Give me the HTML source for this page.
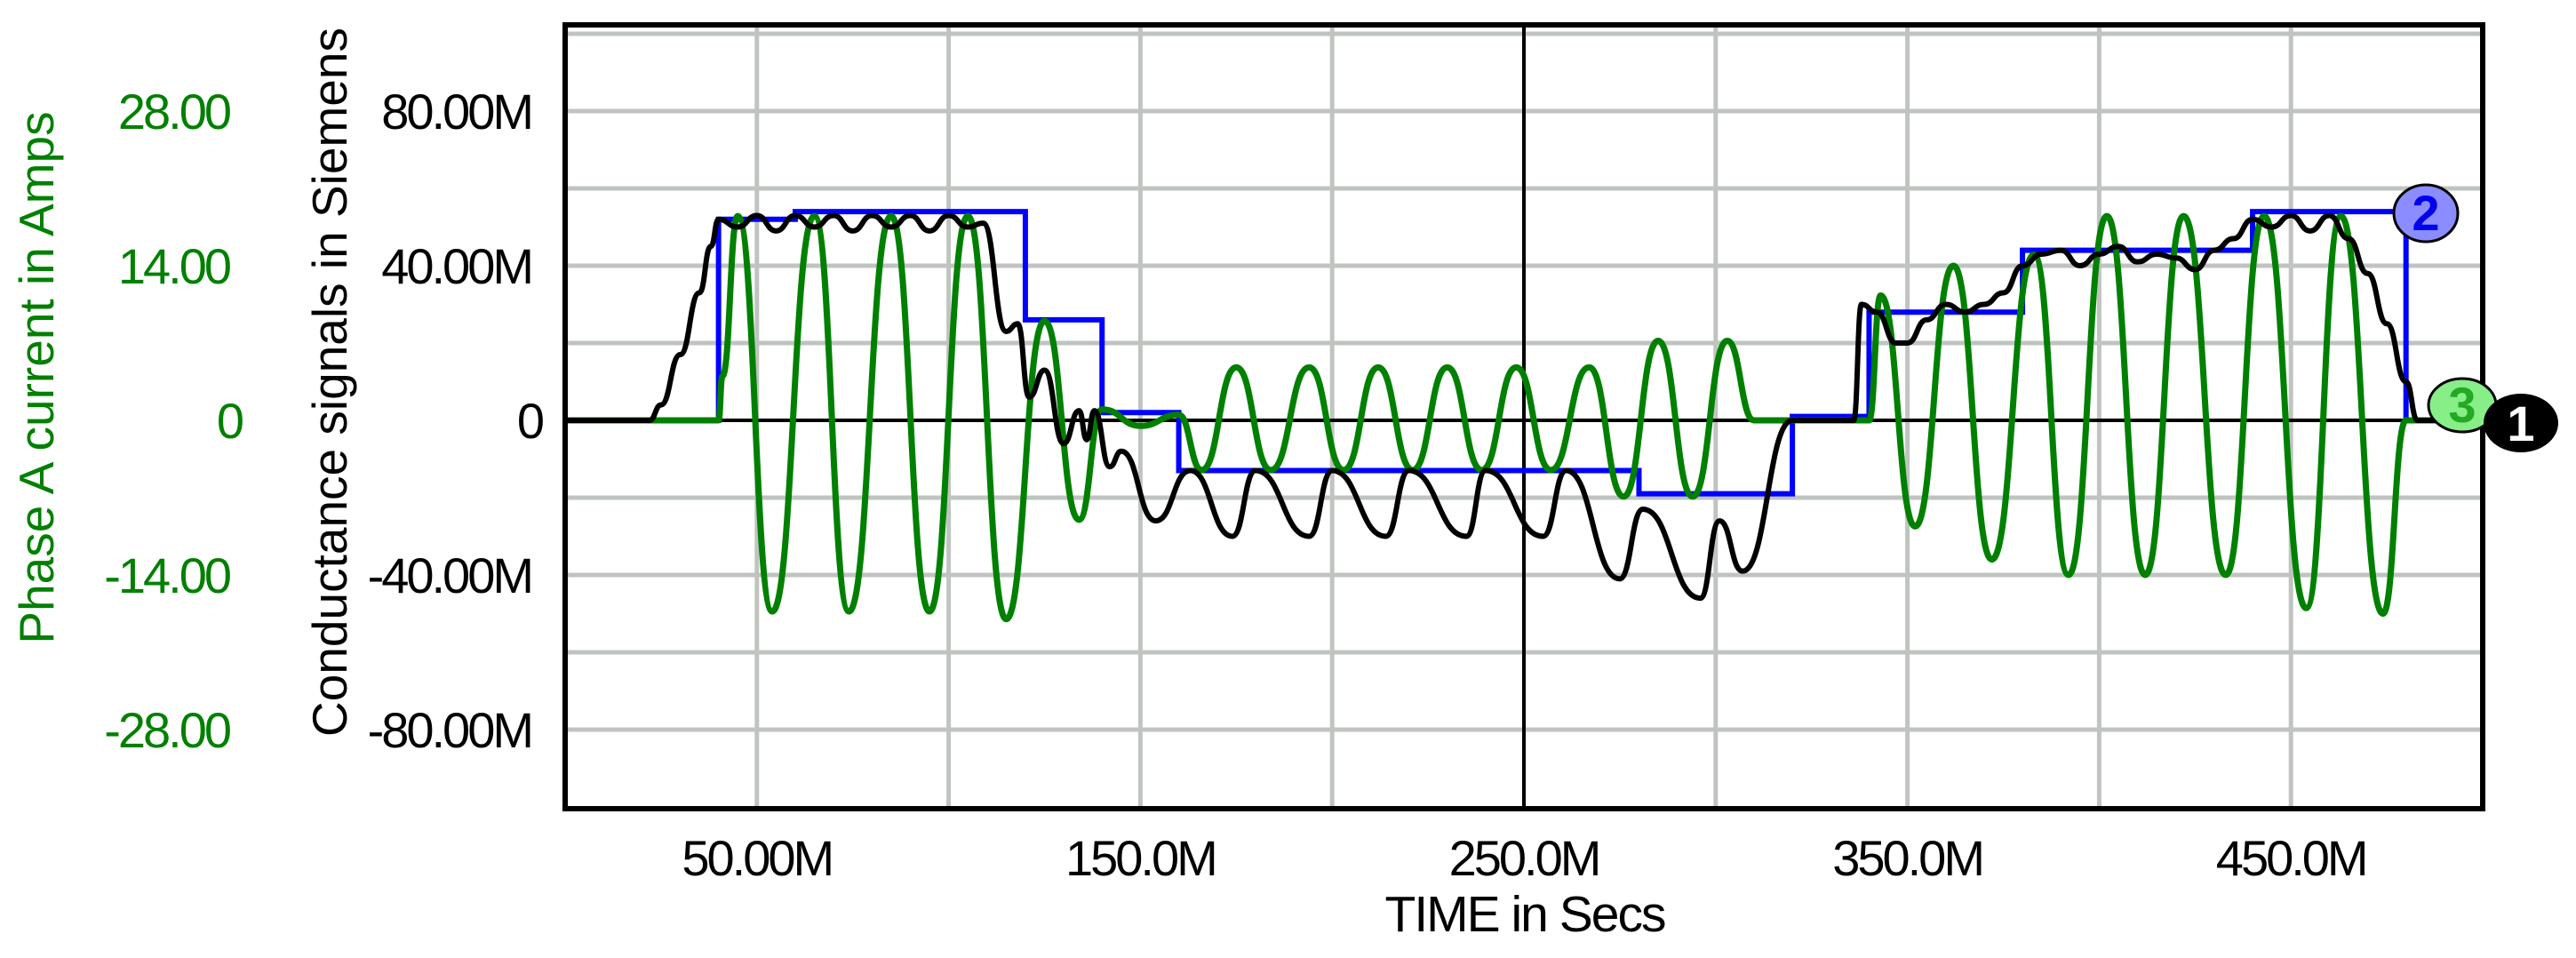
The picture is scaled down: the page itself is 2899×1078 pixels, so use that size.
<!DOCTYPE html>
<html><head><meta charset="utf-8"><style>
html,body{margin:0;padding:0;background:#fff}
svg{display:block}
text{font-family:"Liberation Sans",Arial,sans-serif}
</style></head><body>
<svg id="chart" width="2899" height="1078" viewBox="0 0 2899 1078" xmlns="http://www.w3.org/2000/svg">
<g id="grid"></g>
<g id="series"></g>
<rect x="636" y="28" width="2158" height="882" fill="none" stroke="#000" stroke-width="6"/>
<g id="labels"></g>
<text x="1716" y="1048" font-size="57" text-anchor="middle" letter-spacing="-2">TIME in Secs</text>
<text transform="translate(390,430) rotate(-90)" font-size="55" text-anchor="middle">Conductance signals in Siemens</text>
<text transform="translate(60,425) rotate(-90)" font-size="55" text-anchor="middle" fill="#008000">Phase A current in Amps</text>
<g><ellipse cx="2730" cy="240" rx="36" ry="32" fill="#8a8cff" stroke="#000" stroke-width="3"/><text x="2730" y="259" font-size="56" font-weight="bold" fill="#0000ee" text-anchor="middle">2</text></g>
<g><ellipse cx="2771" cy="456" rx="38" ry="30" fill="#88ee88" stroke="#000" stroke-width="3"/><text x="2771" y="475" font-size="56" font-weight="bold" fill="#22aa22" text-anchor="middle">3</text></g>
<g><ellipse cx="2837" cy="476" rx="42" ry="33" fill="#000"/><text x="2837" y="496" font-size="56" font-weight="bold" fill="#fff" text-anchor="middle">1</text></g>
</svg>
<script>
const xTicks=[50,150,250,350,450];
const xTickLabels=["50.00M","150.0M","250.0M","350.0M","450.0M"];
const yTicks=[80,40,0,-40,-80];
const yTickLabels=["80.00M","40.00M","0","-40.00M","-80.00M"];
const y2Ticks=[28,14,0,-14,-28];
const y2TickLabels=["28.00","14.00","0","-14.00","-28.00"];
const blueT=[0,40,60,120,140,160,280,320,340,380,440,480,500];
const blueV=[0,52,54,26,2,-13,-19,1,28,44,54,0,0];
const blackT=[0,22,25,30,35,38,40,45,50,55,60,65,70,75,80,85,90,95,100,105,109,115,118,121,125,130,134,136,138,142,145,154,163,174,180,194,200,214,220,235,240,255,261,275,281,296,301,307,320,336,338,342,347,350,355,360,365,370,375,380,385,390,395,400,405,410,415,420,425,430,435,440,445,450,455,460,465,470,475,480,483,500];
const blackV=[0,0,4,17,33,45,52,50,53,49,53,50,53,49,53,50,53,49,53,50,51,23,25,6,13,-6,2.5,-5,2.5,-12,-8,-26,-13,-30,-13,-30,-13,-30,-13,-30,-13,-30,-13,-41,-23,-46,-26,-39,0,0,30,28,20,20,26,30,28,30,33,40,43,44,40,43,45,41,43,42,39,44,47,52,50,53,49,53,47,38,25,10,0,0];
const greenT=[0,40,41,45,54,65,74,85,95,105,115,125,134,140,150,160,166,175,184,194,203,212,221,230,239,248,257,267,276,285,294,303,310,320,340,343,352,362,372,383,392,402,412,422,433,443,454,463,474,480,500];
const greenA=[0,0,4,18.5,-17.3,18.5,-17.3,18.5,-17.3,18.5,-18,9,-9,1,-0.5,0.5,-4.5,4.8,-4.5,4.8,-4.5,4.8,-4.5,4.8,-4.5,4.8,-4.5,4.8,-6.9,7.2,-6.9,7.2,0,0,0,11.3,-9.6,14,-12.6,15,-14,18.5,-14,18.5,-14,18.5,-17,18.5,-17.5,0,0];
const NS='http://www.w3.org/2000/svg';
const X0=636,X1=2794,Y0=473,PPM=4.35;
function xs(t){return X0+(t/500)*(X1-X0);}
function ys(v){return Y0-v*PPM;}
function ya(a){return ys(a*40/14);}
function mk(tag,attrs,parent){const e=document.createElementNS(NS,tag);for(const k in attrs)e.setAttribute(k,attrs[k]);parent.appendChild(e);return e;}
function smooth(pts){let d='M'+pts[0][0]+' '+pts[0][1];for(let i=1;i<pts.length;i++){const [x0,y0]=pts[i-1],[x1,y1]=pts[i];const m=(x0+x1)/2;d+='C'+m+' '+y0+' '+m+' '+y1+' '+x1+' '+y1;}return d;}
const grid=document.getElementById('grid'),series=document.getElementById('series'),labels=document.getElementById('labels');
for(let v=-80;v<=100;v+=20){if(v===0)continue;const l=mk('line',{x1:X0,x2:X1,y1:ys(v),y2:ys(v),stroke:'#c0c4c0','stroke-width':5},grid);

}
for(let t=50;t<500;t+=50){const l=mk('line',{x1:xs(t),x2:xs(t),y1:28,y2:910,stroke:t===250?'#000':'#c0c4c0','stroke-width':t===250?4:5},grid);

}
const z=mk('line',{x1:X0,x2:X1,y1:ys(0),y2:ys(0),stroke:'#000','stroke-width':4},grid);


let bp='';for(let i=0;i<blueT.length;i++){const x=xs(blueT[i]),y=ys(blueV[i]);bp+=(i?'L'+x+' '+ys(blueV[i-1])+'L':'M')+x+' '+y;}
const b=mk('path',{d:bp,fill:'none',stroke:'#0000ff','stroke-width':6},series);


const g=mk('path',{d:smooth(greenT.map((t,i)=>[xs(t),ya(greenA[i])])),fill:'none',stroke:'#008000','stroke-width':7,'stroke-linejoin':'round'},series);


const k=mk('path',{d:smooth(blackT.map((t,i)=>[xs(t),ys(blackV[i])])),fill:'none',stroke:'#000','stroke-width':6,'stroke-linejoin':'round'},series);


xTicks.forEach((t,i)=>{const e=mk('text',{x:xs(t),y:985,'font-size':56,'text-anchor':'middle','letter-spacing':-3},labels);e.textContent=xTickLabels[i];

});
yTicks.forEach((v,i)=>{const e=mk('text',{x:v===0?610:598,y:ys(v)+20,'font-size':56,'text-anchor':'end','letter-spacing':-3},labels);e.textContent=yTickLabels[i];

});
y2Ticks.forEach((a,i)=>{const e=mk('text',{x:a===0?272:258,y:ya(a)+20,'font-size':56,'text-anchor':'end','letter-spacing':-3,fill:'#008000'},labels);e.textContent=y2TickLabels[i];

});
</script>
</body></html>
